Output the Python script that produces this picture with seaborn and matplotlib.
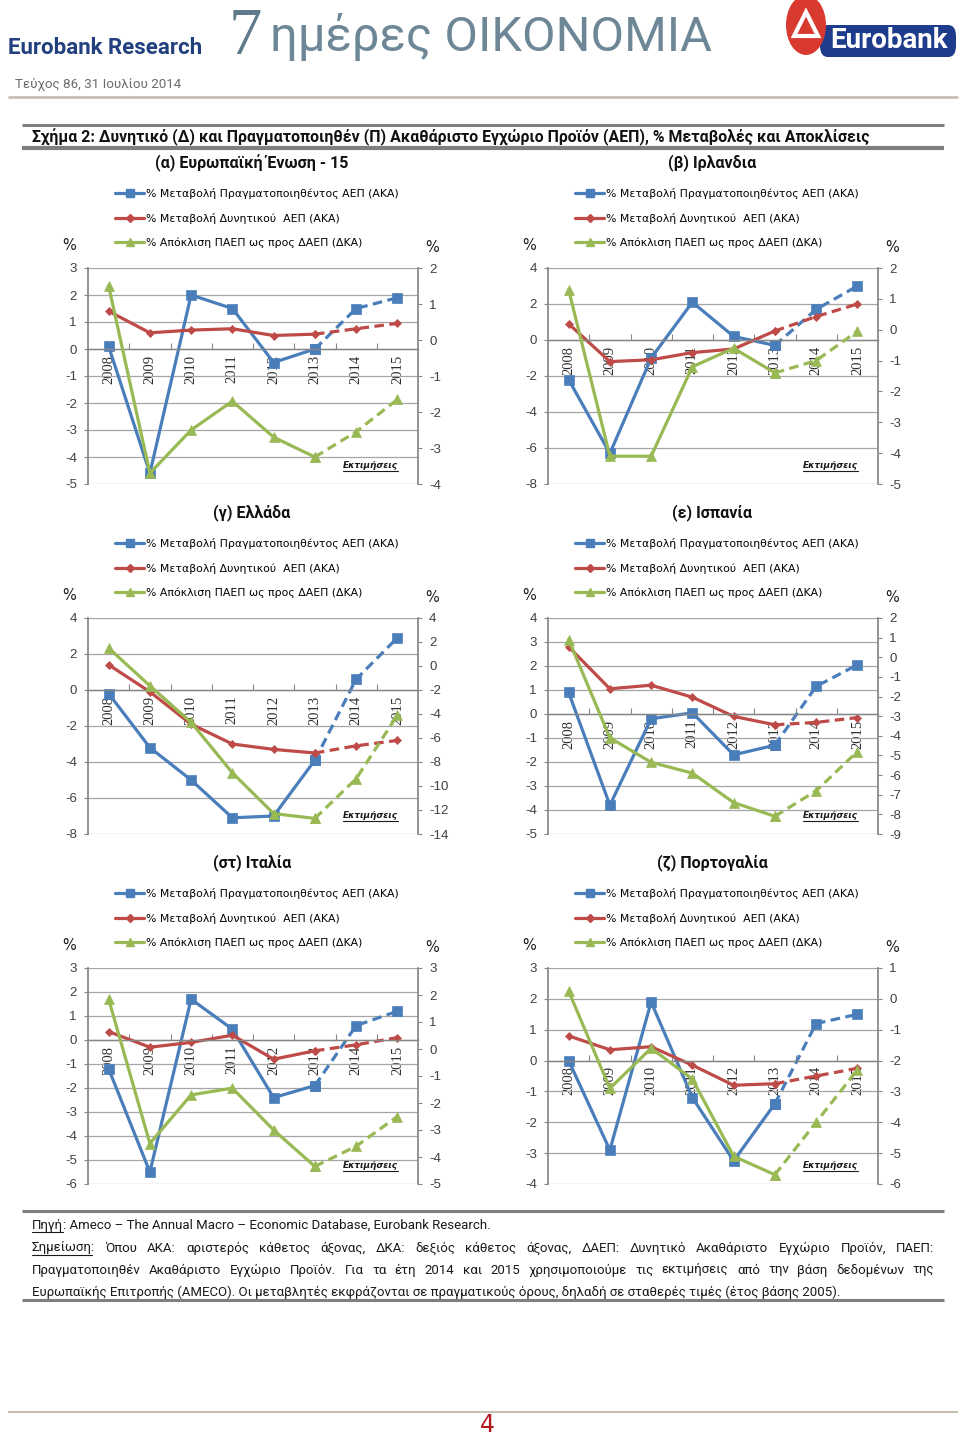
import numpy as np
import pandas as pd
import matplotlib
matplotlib.use("Agg")
import matplotlib.pyplot as plt
import seaborn as sns
from matplotlib.lines import Line2D
from matplotlib.patches import Circle, FancyBboxPatch, Polygon

sns.set_theme(style="white")
plt.rcParams["font.family"] = ["DejaVu Sans"]
plt.rcParams["axes.unicode_minus"] = False

W, H = 960, 1438

# ---------------- data ----------------
years = ["2008", "2009", "2010", "2011", "2012", "2013", "2014", "2015"]
series_labels = ["% Μεταβολή Πραγματοποιηθέντος ΑΕΠ (ΑΚΑ)",
                 "% Μεταβολή Δυνητικού  ΑΕΠ (ΑΚΑ)",
                 "% Απόκλιση ΠΑΕΠ ως προς ΔΑΕΠ (ΔΚΑ)"]
panel_titles = ["(α) Ευρωπαϊκή Ένωση - 15", "(β) Ιρλανδια", "(γ) Ελλάδα",
                "(ε) Ισπανία", "(στ) Ιταλία", "(ζ) Πορτογαλία"]

eu_actual = [0.1, -4.6, 2.0, 1.5, -0.5, 0.0, 1.5, 1.9]
eu_potential = [1.4, 0.6, 0.7, 0.75, 0.5, 0.55, 0.75, 0.95]
eu_gap = [1.5, -3.7, -2.5, -1.7, -2.7, -3.25, -2.55, -1.65]
eu_left_ticks = list(range(-5, 4))
eu_right_ticks = list(range(-4, 3))

ie_actual = [-2.2, -6.3, -1.0, 2.1, 0.2, -0.3, 1.7, 3.0]
ie_potential = [0.9, -1.2, -1.1, -0.7, -0.5, 0.5, 1.3, 2.0]
ie_gap = [1.3, -4.1, -4.1, -1.2, -0.6, -1.4, -1.0, -0.05]
ie_left_ticks = list(range(-8, 5, 2))
ie_right_ticks = list(range(-5, 3))

gr_actual = [-0.2, -3.2, -5.0, -7.1, -7.0, -3.9, 0.6, 2.9]
gr_potential = [1.4, -0.1, -1.9, -3.0, -3.3, -3.5, -3.1, -2.8]
gr_gap = [1.5, -1.65, -4.7, -8.9, -12.3, -12.7, -9.4, -4.1]
gr_left_ticks = list(range(-8, 5, 2))
gr_right_ticks = list(range(-14, 5, 2))

es_actual = [0.9, -3.8, -0.2, 0.05, -1.7, -1.3, 1.15, 2.05]
es_potential = [2.8, 1.05, 1.2, 0.7, -0.1, -0.45, -0.35, -0.15]
es_gap = [0.9, -4.1, -5.35, -5.9, -7.4, -8.1, -6.8, -4.8]
es_left_ticks = list(range(-5, 5))
es_right_ticks = list(range(-9, 3))

it_actual = [-1.2, -5.5, 1.7, 0.45, -2.4, -1.9, 0.6, 1.2]
it_potential = [0.35, -0.3, -0.1, 0.2, -0.8, -0.45, -0.2, 0.1]
it_gap = [1.85, -3.5, -1.7, -1.45, -3.0, -4.35, -3.6, -2.5]
it_left_ticks = list(range(-6, 4))
it_right_ticks = list(range(-5, 4))

pt_actual = [0.0, -2.9, 1.9, -1.2, -3.25, -1.4, 1.2, 1.5]
pt_potential = [0.8, 0.35, 0.45, -0.15, -0.8, -0.75, -0.5, -0.25]
pt_gap = [0.25, -2.9, -1.6, -2.6, -5.1, -5.7, -4.0, -2.3]
pt_left_ticks = list(range(-4, 4))
pt_right_ticks = list(range(-6, 2))

# ---------------- style ----------------
BLUE = "#4A7EBB"
RED = "#BE4B48"
GREEN = "#98B954"
GRID = "#A6A6A6"
AXC = "#868686"
NARROW = ["Roboto", "DejaVu Sans"]
PW, PH = 330, 216

fig = plt.figure(figsize=(W / 100, H / 100), dpi=100)
fig.patch.set_facecolor("white")
R = fig.canvas.get_renderer()


def fx(x):
    return x / W


def fy(y):
    return 1 - y / H


def width(t):
    return t.get_window_extent(R).width


def fit(t, target):
    t.set_fontsize(t.get_fontsize() * target / width(t))
    return t


def hline(x0, x1, y, color, lw):
    fig.add_artist(Line2D([fx(x0), fx(x1)], [fy(y), fy(y)], transform=fig.transFigure,
                          color=color, lw=lw, solid_capstyle="butt"))


def underline(t, y, color="#1A1A1A", lw=0.8):
    bb = t.get_window_extent(R)
    fig.add_artist(Line2D([bb.x0 / W, bb.x1 / W], [fy(y), fy(y)],
                          transform=fig.transFigure, color=color, lw=lw))


def draw_panel(left, top, title, actual, potential, gap, lt, rt):
    ax = fig.add_axes([fx(left), fy(top + PH), PW / W, PH / H])
    ax2 = ax.twinx()
    df = pd.DataFrame({"pos": np.arange(len(years)), "actual": actual,
                       "potential": potential, "gap": gap})
    est = 5
    specs = [(ax, "actual", BLUE, "s", 6.5), (ax, "potential", RED, "D", 4.0),
             (ax2, "gap", GREEN, "^", 7.0)]
    for a, col, c, m, ms in specs:
        sns.lineplot(data=df.iloc[:est + 1], x="pos", y=col, ax=a, color=c, lw=2.3,
                     marker=m, markersize=ms, markeredgecolor=c, markeredgewidth=0.5,
                     legend=False)
        sns.lineplot(data=df.iloc[est:], x="pos", y=col, ax=a, color=c, lw=2.3,
                     marker=m, markersize=ms, markeredgecolor=c, markeredgewidth=0.5,
                     legend=False, linestyle=(0, (3, 1.7)))
    ax.set_xlim(-0.5, 7.5)
    ax.set_ylim(min(lt), max(lt))
    ax.set_yticks(lt)
    ax2.set_ylim(min(rt), max(rt))
    ax2.set_yticks(rt)
    for a in (ax, ax2):
        a.set_xlabel("")
        a.set_ylabel("")
    ax.grid(axis="y", color=GRID, lw=0.9)
    ax.grid(axis="x", visible=False)
    ax.set_axisbelow(True)
    ax.spines["bottom"].set_position(("data", 0))
    ax.spines["bottom"].set_color(AXC)
    ax.spines["bottom"].set_linewidth(1.0)
    ax.spines["top"].set_visible(False)
    ax.spines["right"].set_visible(False)
    ax.spines["left"].set_color(AXC)
    for s in ("top", "bottom", "left"):
        ax2.spines[s].set_visible(False)
    ax2.spines["right"].set_color(AXC)
    ax.set_xticks(np.arange(len(years)))
    ax.set_xticklabels(years, rotation=90, fontfamily="Liberation Serif",
                       fontsize=10.5, color="#303030")
    ax.set_xticks(np.arange(0.5, len(years) - 1, 1), minor=True)
    ax.tick_params(axis="x", which="major", length=0, pad=4, bottom=True)
    ax.tick_params(axis="x", which="minor", length=4, direction="in", color=AXC,
                   width=0.8, bottom=True)
    ax.tick_params(axis="y", left=True, length=3, color=AXC, width=0.8, pad=5,
                   labelsize=9.5, labelcolor="#404040", labelfontfamily="Liberation Sans")
    ax2.tick_params(axis="y", right=True, length=3, color=AXC, width=0.8, pad=5,
                    labelsize=9.5, labelcolor="#404040", labelfontfamily="Liberation Sans")

    handles = [Line2D([], [], color=c, lw=2.3, marker=m, markersize=ms * 0.9,
                      markeredgecolor=c) for _, _, c, m, ms in specs]
    ax.legend(handles, series_labels, loc="upper left",
              bbox_to_anchor=(fx(left + 27), fy(top - 80)), bbox_transform=fig.transFigure,
              frameon=False, fontsize=7.8, handlelength=2.7, handletextpad=0.15,
              labelspacing=1.25, borderpad=0, borderaxespad=0, labelcolor="#000000")

    fig.text(fx(left - 19), fy(top - 22), "%", ha="center", va="center",
             fontsize=10.5, color="#1A1A1A")
    fig.text(fx(left + PW + 14), fy(top - 20), "%", ha="center", va="center",
             fontsize=10.5, color="#1A1A1A")
    tt = fig.text(fx(left + 164), fy(top - 105), title, ha="center", va="center",
                  fontsize=12, fontweight="bold", family=NARROW, color="#111111")
    t = fig.text(fx(left + PW - 48), fy(top + PH - 19), "Εκτιμήσεις", ha="center",
                 va="center", fontsize=6.4, style="italic", fontweight="bold",
                 color="#1A1A1A")
    return tt, t


lefts = [88, 548]
tops = [268, 618, 968]
panels = [
    (panel_titles[0], eu_actual, eu_potential, eu_gap, eu_left_ticks, eu_right_ticks),
    (panel_titles[1], ie_actual, ie_potential, ie_gap, ie_left_ticks, ie_right_ticks),
    (panel_titles[2], gr_actual, gr_potential, gr_gap, gr_left_ticks, gr_right_ticks),
    (panel_titles[3], es_actual, es_potential, es_gap, es_left_ticks, es_right_ticks),
    (panel_titles[4], it_actual, it_potential, it_gap, it_left_ticks, it_right_ticks),
    (panel_titles[5], pt_actual, pt_potential, pt_gap, pt_left_ticks, pt_right_ticks),
]
est_texts = []
title_texts = []
for i, p in enumerate(panels):
    tt, t = draw_panel(lefts[i % 2], tops[i // 2], *p)
    est_texts.append(t)
    title_texts.append(tt)

# panel title sizes matched to the EU-15 title width
first = fit(title_texts[0], 192)
for tt in title_texts[1:]:
    tt.set_fontsize(first.get_fontsize())

# ---------------- header ----------------
fit(fig.text(fx(8), fy(48), "Eurobank Research", ha="left", va="center", fontsize=15,
             fontweight="bold", color="#22407E", family=NARROW), 195)
fig.text(fx(229), fy(37), "7", ha="left", va="center", fontsize=48,
         color="#5F7A8A", family="Liberation Serif")
fit(fig.text(fx(270), fy(37), "ημέρες ΟΙΚΟΝΟΜΙΑ", ha="left", va="center", fontsize=36,
             color="#6D8797", family=NARROW), 442)
fit(fig.text(fx(15), fy(84), "Τεύχος 86, 31 Ιουλίου 2014", ha="left", va="center",
             fontsize=10, color="#6A6A6A", family=NARROW), 166)
hline(8, 958, 97, "#CBBCB4", 2)

# Eurobank logo
fig.add_artist(FancyBboxPatch((fx(820), fy(57)), fx(136), 32 / H,
                              boxstyle="round,pad=0,rounding_size=0.008",
                              transform=fig.transFigure, facecolor="#1E3C8C",
                              edgecolor="none"))
fit(fig.text(fx(889), fy(41), "Eurobank", ha="center", va="center", fontsize=17,
             fontweight="bold", color="white", family=NARROW), 118)
fig.add_artist(Circle((fx(806), fy(25)), 20 / W, transform=fig.transFigure,
                      facecolor="#D83A30", edgecolor="none"))
fig.add_artist(Polygon([(fx(806), fy(12)), (fx(794), fy(36)), (fx(818), fy(36))],
                       closed=True, transform=fig.transFigure, fill=False,
                       edgecolor="white", lw=3))

# title block
hline(22, 944, 125, "#7F7F7F", 2.2)
fit(fig.text(fx(32), fy(137), "Σχήμα 2: Δυνητικό (Δ) και Πραγματοποιηθέν (Π) Ακαθάριστο Εγχώριο "
             "Προϊόν (ΑΕΠ), % Μεταβολές και Αποκλίσεις", ha="left", va="center",
             fontsize=12.5, fontweight="bold", family=NARROW, color="#111111"), 840)
hline(22, 944, 148, "#7F7F7F", 3)

# footer block
hline(22, 944, 1211, "#7F7F7F", 2.2)
hline(22, 944, 1300, "#7F7F7F", 2.2)

note3 = ("Ευρωπαϊκής Επιτροπής (AMECO). Οι μεταβλητές εκφράζονται σε πραγματικούς όρους, "
         "δηλαδή σε σταθερές τιμές (έτος βάσης 2005).")
t3 = fit(fig.text(fx(32), fy(1292), note3, fontsize=10.5, family=NARROW, color="#1A1A1A",
                  va="center", ha="left"), 815)
FOOT = dict(fontsize=t3.get_fontsize(), family=NARROW, color="#1A1A1A", va="center",
            ha="left")

t1 = fig.text(fx(32), fy(1225), "Πηγή", **FOOT)
underline(t1, 1232)
fig.text(fx(32) + width(t1) / W, fy(1225),
         ": Ameco – The Annual Macro – Economic Database, Eurobank Research.", **FOOT)


def justified(line, x0, x1, y):
    words = line.split()
    texts = [fig.text(0, fy(y), w, **FOOT) for w in words]
    ws = [width(t) for t in texts]
    gap = (x1 - x0 - sum(ws)) / (len(words) - 1)
    x = x0
    for t, w in zip(texts, ws):
        t.set_x(fx(x))
        x += w + gap
    return texts


note1 = ("Σημείωση: Όπου ΑΚΑ: αριστερός κάθετος άξονας, ΔΚΑ: δεξιός κάθετος άξονας, "
         "ΔΑΕΠ: Δυνητικό Ακαθάριστο Εγχώριο Προϊόν, ΠΑΕΠ:")
note2 = ("Πραγματοποιηθέν Ακαθάριστο Εγχώριο Προϊόν. Για τα έτη 2014 και 2015 "
         "χρησιμοποιούμε τις εκτιμήσεις από την βάση δεδομένων της")
tx = justified(note1, 32, 934, 1248)
tmp = fig.text(tx[0].get_position()[0], fy(1248), "Σημείωση", **FOOT)
tmp.set_alpha(0)
underline(tmp, 1255)
justified(note2, 32, 934, 1270)

for t in est_texts:
    bb = t.get_window_extent(R)
    underline(t, H - bb.y0 + 1, color="#1A1A1A")

# page footer
hline(8, 958, 1412, "#C8C0B4", 1.5)
fig.text(fx(487), fy(1425), "4", ha="center", va="center", fontsize=17,
         color="#B3161E")

fig.savefig("out.png", dpi=100, facecolor="white")
